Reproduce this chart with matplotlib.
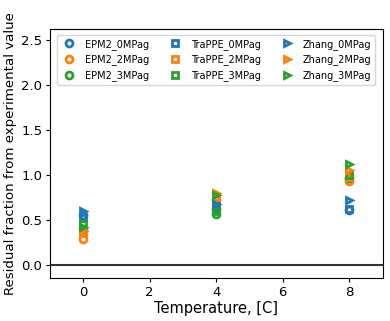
import matplotlib
matplotlib.use("Agg")
import matplotlib.pyplot as plt

temps = [0, 4, 8]
models = ["EPM2", "TraPPE", "Zhang"]
pressures = ["0MPag", "2MPag", "3MPag"]
colors = ["#1f77b4", "#ff7f0e", "#2ca02c"]
markers = ["o", "s", ">"]

values = {
    ("EPM2", "0MPag"): [0.55, 0.62, 0.61],
    ("EPM2", "2MPag"): [0.29, 0.72, 0.93],
    ("EPM2", "3MPag"): [0.40, 0.57, 0.96],
    ("TraPPE", "0MPag"): [0.52, 0.65, 0.62],
    ("TraPPE", "2MPag"): [0.35, 0.75, 0.98],
    ("TraPPE", "3MPag"): [0.45, 0.60, 1.00],
    ("Zhang", "0MPag"): [0.60, 0.68, 0.72],
    ("Zhang", "2MPag"): [0.38, 0.80, 1.05],
    ("Zhang", "3MPag"): [0.42, 0.78, 1.12],
}

fig = plt.figure(figsize=(3.9, 3.21), dpi=100)
ax = fig.add_axes([0.128, 0.134, 0.853, 0.776])

for m, mk in zip(models, markers):
    for p, c in zip(pressures, colors):
        ax.plot(temps, values[(m, p)], linestyle="none", marker=mk,
                markerfacecolor="none", markeredgecolor=c, markeredgewidth=2,
                markersize=5, label=f"{m}_{p}")

ax.axhline(0, color="#333333", linewidth=1.5)
ax.set_xlim(-1, 9)
ax.set_ylim(-0.145, 2.62)
ax.set_xticks([0, 2, 4, 6, 8])
ax.set_yticks([0.0, 0.5, 1.0, 1.5, 2.0, 2.5])
ax.tick_params(labelsize=9.5, length=3, pad=2.5)
ax.set_xlabel("Temperature, [C]", fontsize=10.5, labelpad=1.5)
ax.set_ylabel("Residual fraction from experimental value", fontsize=9.6, labelpad=3)
ax.legend(ncol=3, fontsize=7, loc="upper center", frameon=True,
          columnspacing=1.9, handletextpad=0.8, handlelength=1.6,
          borderaxespad=0.6)

fig.savefig("out.png", dpi=100)
